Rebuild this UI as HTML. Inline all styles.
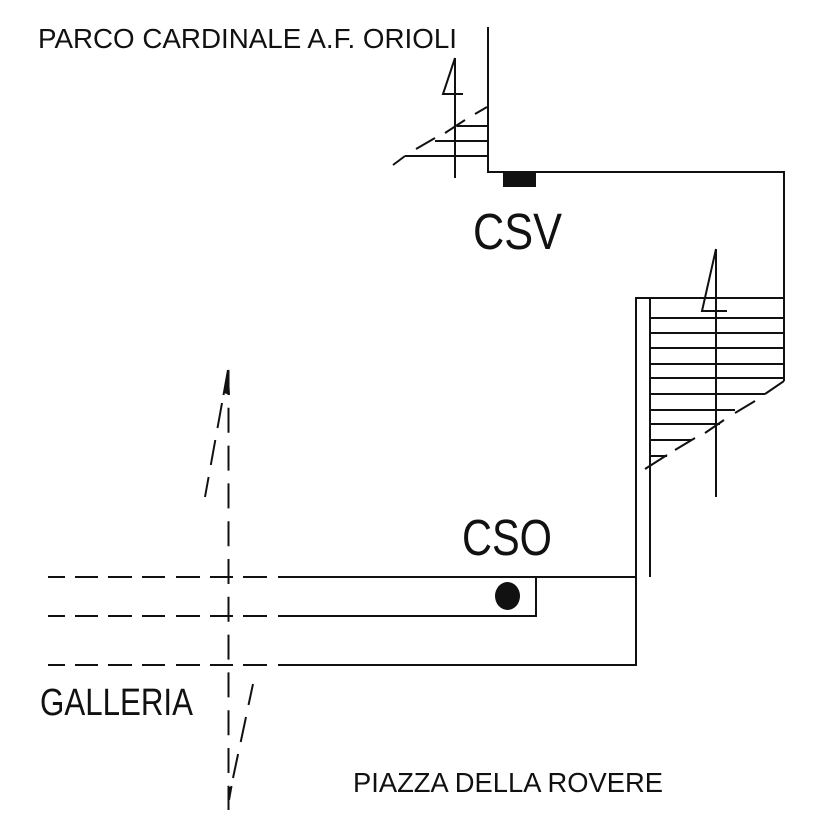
<!DOCTYPE html>
<html>
<head>
<meta charset="utf-8">
<style>
  html, body { margin: 0; padding: 0; background: #ffffff; }
  svg { display: block; }
  text { font-family: "Liberation Sans", sans-serif; fill: #111; }
</style>
</head>
<body>
<svg width="827" height="827" viewBox="0 0 827 827" xmlns="http://www.w3.org/2000/svg">
  <rect x="0" y="0" width="827" height="827" fill="#ffffff"/>

  <g stroke="#111" stroke-width="2" fill="none" stroke-linecap="butt">
    <!-- Upper wall & corridor -->
    <line x1="488" y1="27" x2="488" y2="172"/>
    <line x1="487" y1="172" x2="784" y2="172"/>
    <line x1="784" y1="171" x2="784" y2="381"/>

    <!-- Top small stair -->
    <line x1="457" y1="126" x2="488" y2="126"/>
    <line x1="435" y1="141" x2="488" y2="141"/>
    <line x1="405" y1="156" x2="488" y2="156"/>
    <line x1="393" y1="165" x2="405" y2="156"/>
    <line x1="416" y1="149" x2="435" y2="138"/>
    <line x1="445" y1="133" x2="465" y2="120"/>
    <line x1="475" y1="114" x2="487" y2="107"/>
    <!-- top arrow "4" -->
    <line x1="455" y1="58" x2="455" y2="178"/>
    <polyline points="455,58 443,94 463,94"/>

    <!-- Right stair -->
    <line x1="635" y1="298" x2="784" y2="298"/>
    <line x1="636" y1="297" x2="636" y2="666"/>
    <line x1="650" y1="298" x2="650" y2="577"/>
    <line x1="650" y1="318" x2="783" y2="318"/>
    <line x1="650" y1="333" x2="783" y2="333"/>
    <line x1="650" y1="348" x2="783" y2="348"/>
    <line x1="650" y1="364" x2="783" y2="364"/>
    <line x1="650" y1="378" x2="783" y2="378"/>
    <line x1="650" y1="394" x2="765" y2="394"/>
    <line x1="650" y1="410" x2="735" y2="410"/>
    <line x1="650" y1="424" x2="720" y2="424"/>
    <line x1="650" y1="440" x2="692" y2="440"/>
    <line x1="650" y1="456" x2="667" y2="456"/>
    <line x1="765" y1="394" x2="784" y2="381"/>
    <line x1="735" y1="413" x2="755" y2="401"/>
    <line x1="705" y1="433" x2="724" y2="420"/>
    <line x1="675" y1="450" x2="695" y2="438"/>
    <line x1="645" y1="469" x2="667" y2="455"/>
    <!-- right arrow "4" -->
    <line x1="716" y1="249" x2="716" y2="497"/>
    <polyline points="716,249 702,311 727,311"/>

    <!-- Gallery lines: solid parts -->
    <line x1="278" y1="577" x2="637" y2="577"/>
    <line x1="278" y1="616" x2="537" y2="616"/>
    <line x1="536" y1="577" x2="536" y2="617"/>
    <line x1="278" y1="665" x2="637" y2="665"/>

    <!-- Gallery lines: dashed parts -->
    <path d="M48 577H65M75 577H98M108 577H132M142 577H165M176 577H200M210 577H233M243 577H267"/>
    <path d="M48 616H65M75 616H98M108 616H132M142 616H165M176 616H200M210 616H233M243 616H267"/>
    <path d="M48 665H65M75 665H98M108 665H132M142 665H165M176 665H200M210 665H233M243 665H267"/>

    <!-- Vertical break line -->
    <line x1="228.5" y1="370" x2="228.5" y2="810" stroke-dasharray="25 12.8"/>
    <!-- upper slanted dashes -->
    <path d="M228 370L223.5 395M222 403L217.5 428M215.3 440L210.8 465M208.6 477L205 497"/>
    <!-- lower slanted dashes -->
    <path d="M253 684L248.5 705M246 717L240.7 742M238.1 754L233 778M231.5 786L229 800"/>
  </g>

  <!-- wedges -->
  <polygon points="228.5,369 224,393 230,395" fill="#111"/>
  <polygon points="229.5,800 232,787 228,787" fill="#111"/>

  <!-- CSV block -->
  <rect x="503" y="172" width="33" height="15" fill="#111"/>
  <!-- CSO dot -->
  <ellipse cx="507.5" cy="596" rx="12.5" ry="14" fill="#111"/>

  <!-- Labels -->
  <text x="38" y="48" font-size="28" textLength="419" lengthAdjust="spacingAndGlyphs">PARCO CARDINALE A.F. ORIOLI</text>
  <text x="473" y="249" font-size="51" textLength="89" lengthAdjust="spacingAndGlyphs">CSV</text>
  <text x="462" y="555" font-size="51" textLength="90" lengthAdjust="spacingAndGlyphs">CSO</text>
  <text x="40" y="715" font-size="38" textLength="153" lengthAdjust="spacingAndGlyphs">GALLERIA</text>
  <text x="353" y="792" font-size="28" textLength="310" lengthAdjust="spacingAndGlyphs">PIAZZA DELLA ROVERE</text>
</svg>
</body>
</html>
